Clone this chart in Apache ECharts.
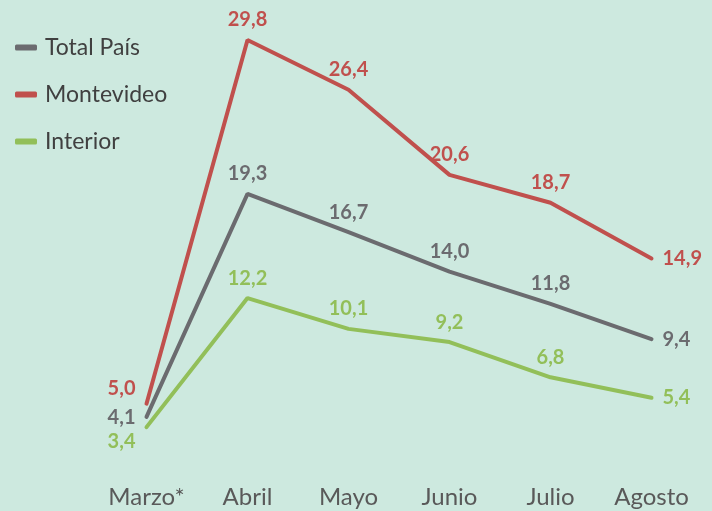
<!DOCTYPE html>
<html>
<head>
<meta charset="utf-8">
<script src="https://cdn.jsdelivr.net/npm/echarts@6/dist/echarts.min.js"></script>
<style>
html, body { margin: 0; padding: 0; background: #cde9df; }
#main { width: 712px; height: 511px; }
</style>
</head>
<body>
<div id="main"></div>
<script>
var meses = ['Marzo*', 'Abril', 'Mayo', 'Junio', 'Julio', 'Agosto'];
var totalPais = [4.1, 19.3, 16.7, 14.0, 11.8, 9.4];
var montevideo = [5.0, 29.8, 26.4, 20.6, 18.7, 14.9];
var interior = [3.4, 12.2, 10.1, 9.2, 6.8, 5.4];

var fuente = 'Lato, "Open Sans", sans-serif';

// el primer punto va a la izquierda (con desplazamiento), el ultimo a la derecha
function puntos(valores, dy) {
    return valores.map(function (v, i) {
        var p = { value: v };
        if (i == 0) {
            p.label = { position: 'left', distance: 11, offset: [0, dy] };
        } else if (i == valores.length - 1) {
            p.label = { position: 'right', distance: 11 };
        }
        return p;
    });
}

function serie(nombre, valores, color, dy) {
    return {
        name: nombre,
        type: 'line',
        data: puntos(valores, dy),
        symbol: 'circle',
        symbolSize: 0,
        showSymbol: true,
        lineStyle: { width: 4, color: color, cap: 'round' },
        itemStyle: { color: color },
        label: {
            show: true,
            position: 'top',
            distance: 10,
            color: color,
            fontFamily: fuente,
            fontWeight: 'bold',
            fontSize: 20,
            formatter: function (p) {
                return p.value.toFixed(1).replace('.', ',');
            }
        }
    };
}

var myChart = echarts.init(document.getElementById('main'));
var option = {
    backgroundColor: '#cde9df',
    animation: false,
    legend: {
        orient: 'vertical',
        left: 10,
        top: 31,
        itemGap: 24,
        itemWidth: 22,
        itemHeight: 6,
        icon: 'roundRect',
        textStyle: { fontFamily: fuente, fontSize: 23, color: '#404040', padding: [0, 0, 0, 3] },
        data: ['Total País', 'Montevideo', 'Interior']
    },
    grid: { left: 96, right: 10, top: 37, bottom: 34 },
    xAxis: {
        type: 'category',
        data: meses,
        axisLine: { show: false },
        axisTick: { show: false },
        axisLabel: { color: '#595959', fontFamily: fuente, fontSize: 24, margin: 8 }
    },
    yAxis: {
        type: 'value',
        min: 0,
        max: 30,
        show: false
    },
    series: [
        serie('Total País', totalPais, '#6b6b6f', 1),
        serie('Montevideo', montevideo, '#c0504d', -15),
        serie('Interior', interior, '#92bf59', 14)
    ]
};
myChart.setOption(option);
</script>
</body>
</html>
